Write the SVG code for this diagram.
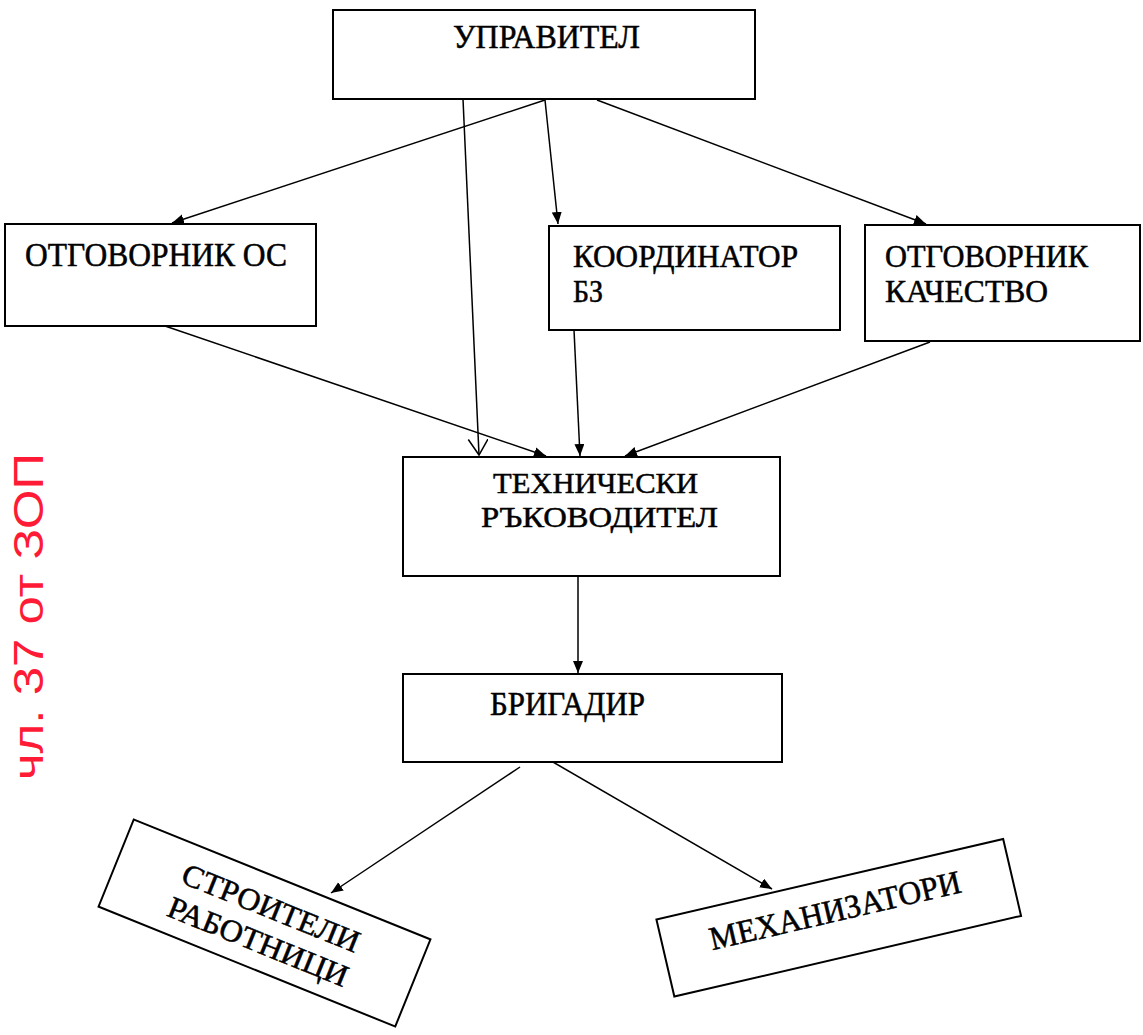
<svg xmlns="http://www.w3.org/2000/svg" width="1143" height="1035" viewBox="0 0 1143 1035">
<style>
.box{fill:#fff;stroke:#000;stroke-width:2}
.t{font-family:"Liberation Serif","Times New Roman",serif;font-size:31px;fill:#000;stroke:#000;stroke-width:0.5}
.b{font-size:33px}
.s{font-size:30px}
.c{fill:none;stroke:#000;stroke-width:1.5}
.red{font-family:"Liberation Sans",Arial,sans-serif;font-size:42px;fill:#ff1a35}
</style>
<defs>
<marker id="ah" markerUnits="userSpaceOnUse" markerWidth="14" markerHeight="12" refX="12" refY="5" orient="auto">
<path d="M0,0 L12,5 L0,10 z" fill="#000"/>
</marker>
<marker id="av" markerUnits="userSpaceOnUse" markerWidth="18" markerHeight="22" refX="16" refY="10" orient="auto">
<path d="M0,0 L16,10 L0,20" fill="none" stroke="#000" stroke-width="1.5"/>
</marker>
</defs>
<rect width="1143" height="1035" fill="#fff"/>
<g id="connectors">
<line class="c" x1="463" y1="99" x2="479" y2="455" marker-end="url(#av)"/>
<line class="c" x1="545" y1="100" x2="558" y2="224" marker-end="url(#ah)"/>
<line class="c" x1="545" y1="100" x2="172" y2="223" marker-end="url(#ah)"/>
<line class="c" x1="597" y1="100" x2="926" y2="224" marker-end="url(#ah)"/>
<line class="c" x1="165" y1="326" x2="546" y2="456" marker-end="url(#ah)"/>
<line class="c" x1="574" y1="330" x2="580" y2="456" marker-end="url(#ah)"/>
<line class="c" x1="930" y1="342" x2="625" y2="456" marker-end="url(#ah)"/>
<line class="c" x1="578" y1="576" x2="578" y2="673" marker-end="url(#ah)"/>
<line class="c" x1="520" y1="767" x2="331" y2="893" marker-end="url(#ah)"/>
<line class="c" x1="553" y1="762" x2="772" y2="889" marker-end="url(#ah)"/>
</g>
<g id="upravitel">
<rect class="box" x="333" y="10" width="422" height="89"/>
<text class="t b" x="453" y="48" textLength="187" lengthAdjust="spacingAndGlyphs">УПРАВИТЕЛ</text>
</g>
<g id="otgovornik-os">
<rect class="box" x="5" y="224" width="311" height="102"/>
<text class="t b" x="25" y="266" textLength="262" lengthAdjust="spacingAndGlyphs">ОТГОВОРНИК ОС</text>
</g>
<g id="koordinator-bz">
<rect class="box" x="549" y="226" width="291" height="104"/>
<text class="t" x="573" y="267" textLength="225" lengthAdjust="spacingAndGlyphs">КООРДИНАТОР</text>
<text class="t" x="573" y="302" textLength="30" lengthAdjust="spacingAndGlyphs">БЗ</text>
</g>
<g id="otgovornik-kachestvo">
<rect class="box" x="865" y="225" width="275" height="116"/>
<text class="t" x="885" y="267" textLength="203" lengthAdjust="spacingAndGlyphs">ОТГОВОРНИК</text>
<text class="t" x="885" y="302" textLength="163" lengthAdjust="spacingAndGlyphs">КАЧЕСТВО</text>
</g>
<g id="tehnicheski-rakovoditel">
<rect class="box" x="403" y="457" width="377" height="119"/>
<text class="t s" x="493" y="493" textLength="205" lengthAdjust="spacingAndGlyphs">ТЕХНИЧЕСКИ</text>
<text class="t s" x="481" y="527" textLength="237" lengthAdjust="spacingAndGlyphs">РЪКОВОДИТЕЛ</text>
</g>
<g id="brigadir">
<rect class="box" x="403" y="674" width="379" height="88"/>
<text class="t b" x="490" y="715" textLength="155" lengthAdjust="spacingAndGlyphs">БРИГАДИР</text>
</g>
<g id="stroiteli-rabotnici" transform="translate(264.5,923) rotate(22)">
<rect class="box" x="-160" y="-47" width="320" height="94"/>
<text class="t" x="-94" y="-6" textLength="189" lengthAdjust="spacingAndGlyphs">СТРОИТЕЛИ</text>
<text class="t" x="-95" y="30" textLength="192" lengthAdjust="spacingAndGlyphs">РАБОТНИЦИ</text>
</g>
<g id="mehanizatori" transform="translate(838.75,917.75) rotate(-13.1)">
<rect class="box" x="-178" y="-39.5" width="356" height="79"/>
<text class="t b" x="-2" y="3" text-anchor="middle" textLength="257" lengthAdjust="spacingAndGlyphs">МЕХАНИЗАТОРИ</text>
</g>
<g id="stamp" transform="translate(43,780) rotate(-90)">
<text class="red" x="0" y="0" textLength="327" lengthAdjust="spacingAndGlyphs">чл. 37 от ЗОП</text>
</g>
</svg>
